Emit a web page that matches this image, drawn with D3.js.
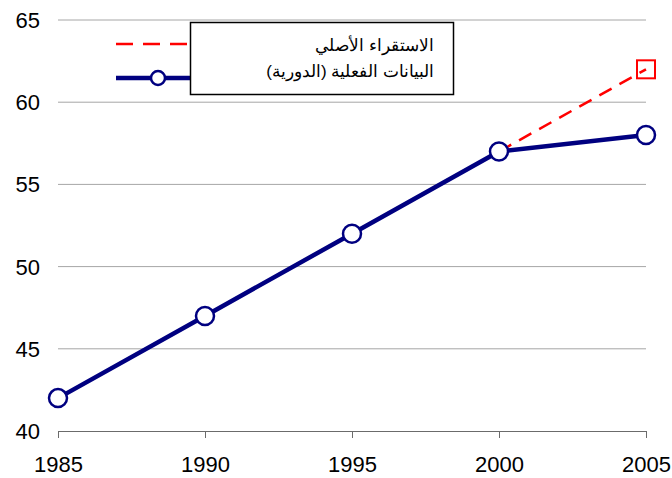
<!DOCTYPE html>
<html><head><meta charset="utf-8">
<script src="https://cdn.jsdelivr.net/npm/d3@7"></script>
<style>body{margin:0;background:#fff}svg{display:block}text{font-family:"Liberation Sans",Arial,sans-serif}</style>
</head><body><svg id="c" width="672" height="478"></svg>
<script>
const years = [1985, 1990, 1995, 2000, 2005];
const actual = [42, 47, 52, 57, 58];
const projYears = [2000, 2005];
const projected = [57, 62];
const yTicks = [40, 45, 50, 55, 60, 65];
const xTicks = [1985, 1990, 1995, 2000, 2005];
const legendLabels = ["الاستقراء الأصلي", "البيانات الفعلية (الدورية)"];

const svg = d3.select("#c");
const x = d3.scaleLinear().domain([1985, 2005]).range([58, 646]);
const y = d3.scaleLinear().domain([40, 65]).range([431, 20]);

// gridlines
svg.append("g").selectAll("line").data(yTicks.filter(d => d > 40)).join("line")
  .attr("x1", x(1985)).attr("x2", x(2005))
  .attr("y1", d => y(d)).attr("y2", d => y(d))
  .attr("stroke", "#a6a6a6").attr("stroke-width", 1);

// y labels
svg.append("g").selectAll("text").data(yTicks).join("text")
  .attr("x", 40).attr("y", d => y(d) + 8).attr("text-anchor", "end")
  .attr("font-size", 22).attr("fill", "#000").text(d => d);

// x axis
const xa = svg.append("g").attr("transform", `translate(0,${y(40)})`)
  .call(d3.axisBottom(x).tickValues(xTicks).tickFormat(d3.format("d")).tickSize(7).tickPadding(18));
xa.select(".domain").attr("stroke", "#6b6b6b");
xa.selectAll(".tick line").attr("stroke", "#6b6b6b");
xa.selectAll("text").attr("font-size", 22).attr("fill", "#000").attr("font-family", '"Liberation Sans",Arial,sans-serif');

// projected line
const line = d3.line().x(d => x(d[0])).y(d => y(d[1]));
svg.append("path").datum(projYears.map((d, i) => [d, projected[i]]))
  .attr("d", line).attr("fill", "none").attr("stroke", "#ff0000")
  .attr("stroke-width", 2.5).attr("stroke-dasharray", "14,9");
svg.append("rect")
  .attr("x", x(2005) - 9).attr("y", y(62) - 9).attr("width", 18).attr("height", 18)
  .attr("fill", "none").attr("stroke", "#ff0000").attr("stroke-width", 2);

// actual line
svg.append("path").datum(years.map((d, i) => [d, actual[i]]))
  .attr("d", line).attr("fill", "none").attr("stroke", "#000080")
  .attr("stroke-width", 4.5);
svg.append("g").selectAll("circle").data(years.map((d, i) => [d, actual[i]])).join("circle")
  .attr("cx", d => x(d[0])).attr("cy", d => y(d[1])).attr("r", 9)
  .attr("fill", "#fff").attr("stroke", "#000080").attr("stroke-width", 2.5);

// legend
const lg = svg.append("g");
lg.append("line").attr("x1", 116).attr("x2", 190).attr("y1", 44).attr("y2", 44)
  .attr("stroke", "#ff0000").attr("stroke-width", 2.5).attr("stroke-dasharray", "17,10");
lg.append("line").attr("x1", 116).attr("x2", 190).attr("y1", 78).attr("y2", 78)
  .attr("stroke", "#000080").attr("stroke-width", 4.5);
lg.append("circle").attr("cx", 158).attr("cy", 78).attr("r", 7)
  .attr("fill", "#fff").attr("stroke", "#000080").attr("stroke-width", 2.5);
lg.append("rect").attr("x", 190.5).attr("y", 22.5).attr("width", 263).attr("height", 72)
  .attr("fill", "#fff").attr("stroke", "#000").attr("stroke-width", 1.5);
lg.selectAll("text.l").data(legendLabels).join("text").attr("class", "l")
  .attr("x", 434).attr("y", (d, i) => 51 + i * 26).attr("text-anchor", "start")
  .attr("direction", "rtl").attr("font-size", 17).attr("fill", "#000").text(d => d);
</script></body></html>
